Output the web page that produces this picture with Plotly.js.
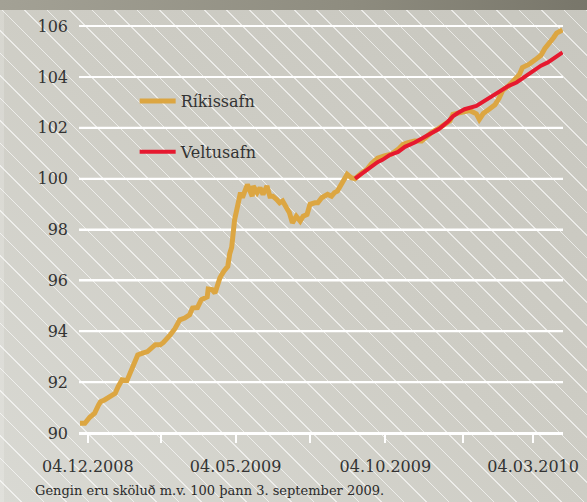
<!DOCTYPE html>
<html>
<head>
<meta charset="utf-8">
<script src="https://cdn.plot.ly/plotly-3.0.1.min.js"></script>
<style>
  html, body { margin: 0; padding: 0; }
  #wrap {
    position: relative; width: 587px; height: 502px; overflow: hidden;
    background:
      linear-gradient(to right, #a3a195, #8e8c7f 60%, #78766a) 0 0 / 587px 10px no-repeat,
      linear-gradient(rgba(255,255,255,0.18), rgba(255,255,255,0.18)) 0 10px / 4px 492px no-repeat,
      repeating-linear-gradient(45deg, rgba(255,255,255,0) 0px, rgba(255,255,255,0) 14.8px, rgba(255,255,255,0.62) 14.8px, rgba(255,255,255,0.62) 15.9px),
      linear-gradient(to top right, #d9d9d3 0%, #cecdc5 50%, #c8c7bf 100%);
  }
  #chart { position: absolute; left: 0; top: 0; width: 587px; height: 502px; }
  #foot {
    position: absolute; left: 35px; top: 484px; line-height: 14px;
    font-family: 'DejaVu Serif', serif; font-size: 13px; color: #2a2a2a; white-space: nowrap;
  }
</style>
</head>
<body>
<div id="wrap">
  <div id="chart"></div>
  <div id="foot"></div>
</div>
<script>
const rikDates = ['2008-11-26','2008-12-01','2008-12-06','2008-12-11','2008-12-15','2008-12-17','2008-12-21','2008-12-27','2009-01-01','2009-01-04','2009-01-08','2009-01-13','2009-01-16','2009-01-21','2009-01-24','2009-01-29','2009-02-03','2009-02-11','2009-02-16','2009-02-19','2009-02-23','2009-02-26','2009-03-03','2009-03-08','2009-03-13','2009-03-18','2009-03-21','2009-03-26','2009-03-30','2009-04-05','2009-04-06','2009-04-10','2009-04-13','2009-04-18','2009-04-22','2009-04-26','2009-04-28','2009-04-30','2009-05-03','2009-05-06','2009-05-09','2009-05-11','2009-05-15','2009-05-16','2009-05-21','2009-05-22','2009-05-26','2009-05-29','2009-06-01','2009-06-05','2009-06-08','2009-06-11','2009-06-15','2009-06-18','2009-06-21','2009-06-25','2009-06-28','2009-07-01','2009-07-05','2009-07-09','2009-07-12','2009-07-16','2009-07-19','2009-07-24','2009-07-27','2009-07-31','2009-08-03','2009-08-06','2009-08-10','2009-08-13','2009-08-16','2009-08-20','2009-08-23','2009-08-26','2009-08-30','2009-09-03','2009-09-10','2009-09-15','2009-09-20','2009-09-26','2009-10-03','2009-10-10','2009-10-17','2009-10-22','2009-10-27','2009-11-03','2009-11-10','2009-11-15','2009-11-20','2009-11-26','2009-12-03','2009-12-09','2009-12-12','2009-12-17','2009-12-22','2009-12-29','2010-01-05','2010-01-08','2010-01-12','2010-01-18','2010-01-24','2010-01-28','2010-02-01','2010-02-07','2010-02-13','2010-02-18','2010-02-21','2010-02-28','2010-03-06','2010-03-12','2010-03-16','2010-03-20','2010-03-25','2010-03-28','2010-04-03'];
const rikValues = [90.38,90.38,90.62,90.78,91.10,91.23,91.30,91.43,91.56,91.82,92.09,92.06,92.35,92.81,93.07,93.14,93.20,93.47,93.47,93.55,93.70,93.85,94.10,94.45,94.52,94.65,94.91,94.93,95.24,95.35,95.66,95.64,95.50,96.10,96.36,96.55,97.05,97.30,98.39,99.05,99.45,99.25,99.58,99.77,99.31,99.71,99.45,99.64,99.38,99.71,99.31,99.31,99.18,99.05,99.12,98.86,98.66,98.26,98.52,98.33,98.52,98.59,98.99,99.05,99.05,99.25,99.31,99.38,99.31,99.45,99.51,99.77,99.97,100.17,100.04,100.00,100.23,100.36,100.60,100.80,100.89,100.96,101.15,101.35,101.42,101.48,101.48,101.68,101.81,101.94,102.14,102.27,102.53,102.60,102.62,102.68,102.55,102.33,102.56,102.73,102.90,103.15,103.48,103.65,103.88,104.10,104.37,104.50,104.67,104.85,105.12,105.35,105.55,105.72,105.85];

const velDates = ['2009-09-03','2009-09-09','2009-09-15','2009-09-21','2009-09-26','2009-10-01','2009-10-08','2009-10-17','2009-10-24','2009-11-03','2009-11-12','2009-11-20','2009-11-28','2009-12-07','2009-12-12','2009-12-17','2009-12-24','2010-01-05','2010-01-12','2010-01-18','2010-01-25','2010-02-01','2010-02-07','2010-02-15','2010-02-21','2010-02-28','2010-03-06','2010-03-12','2010-03-19','2010-03-24','2010-03-29','2010-04-03'];
const velValues = [100.00,100.18,100.36,100.52,100.65,100.74,100.92,101.05,101.25,101.42,101.61,101.81,101.96,102.25,102.45,102.58,102.73,102.86,103.02,103.19,103.36,103.52,103.65,103.78,103.95,104.11,104.28,104.44,104.57,104.70,104.84,104.96];

const seriesNames = ['Ríkissafn', 'Veltusafn'];
const xTickDates = ['2008-12-04','2009-02-17','2009-05-04','2009-07-19','2009-10-04','2009-12-22','2010-03-04'];
const xTickLabels = ['04.12.2008','','04.05.2009','','04.10.2009','','04.03.2010'];
const yTicks = [90, 92, 94, 96, 98, 100, 102, 104, 106];
const xRange = ['2008-11-25', '2010-04-03 12:00'];
const footnote = 'Gengin eru sköluð m.v. 100 þann 3. september 2009.';

const FONT = 'DejaVu Serif, serif';
const TXT = '#333333';

// horizontal gridlines, one per y tick, across the x range
const gridX = [], gridY = [];
yTicks.forEach(v => { gridX.push(xRange[0], xRange[1], null); gridY.push(v, v, null); });

const traces = [
  { x: gridX, y: gridY, type: 'scatter', mode: 'lines', showlegend: false, hoverinfo: 'skip',
    line: { color: '#ffffff', width: 2 } },
  { x: rikDates, y: rikValues, name: seriesNames[0], type: 'scatter', mode: 'lines',
    legendgroup: 'a', line: { color: '#dca642', width: 5 } },
  { x: velDates, y: velValues, name: seriesNames[1], type: 'scatter', mode: 'lines',
    legendgroup: 'b', line: { color: '#e6192f', width: 4 } }
];

const layout = {
  width: 587, height: 502,
  margin: { l: 79, r: 24, t: 24, b: 69 },
  paper_bgcolor: 'rgba(0,0,0,0)',
  plot_bgcolor: 'rgba(0,0,0,0)',
  font: { family: FONT, color: TXT, size: 16 },
  showlegend: true,
  legend: { x: 0.115, xanchor: 'left', y: 0.853, yanchor: 'top', bgcolor: 'rgba(0,0,0,0)',
    tracegroupgap: 27, itemwidth: 36 },
  xaxis: { type: 'date', range: xRange, tickmode: 'array',
    tickvals: xTickDates, ticktext: xTickLabels,
    ticks: 'outside', ticklen: 8, tickwidth: 2, tickcolor: '#ffffff', showgrid: false, zeroline: false,
    showline: true, linecolor: '#ffffff', linewidth: 2, ticklabelstandoff: 10 },
  yaxis: { range: [90, 106.08], tickmode: 'array', tickvals: yTicks, ticks: '', showgrid: true,
    gridcolor: '#ffffff', gridwidth: 2, zeroline: false, showline: false, ticklabelstandoff: 10 }
};

Plotly.newPlot('chart', traces, layout, { displayModeBar: false, staticPlot: true }).then(() => {
  // write the footnote after the chart is drawn (forces a fresh paint of the page)
  document.getElementById('foot').textContent = footnote;
  void document.body.offsetHeight;
});
</script>
</body>
</html>
